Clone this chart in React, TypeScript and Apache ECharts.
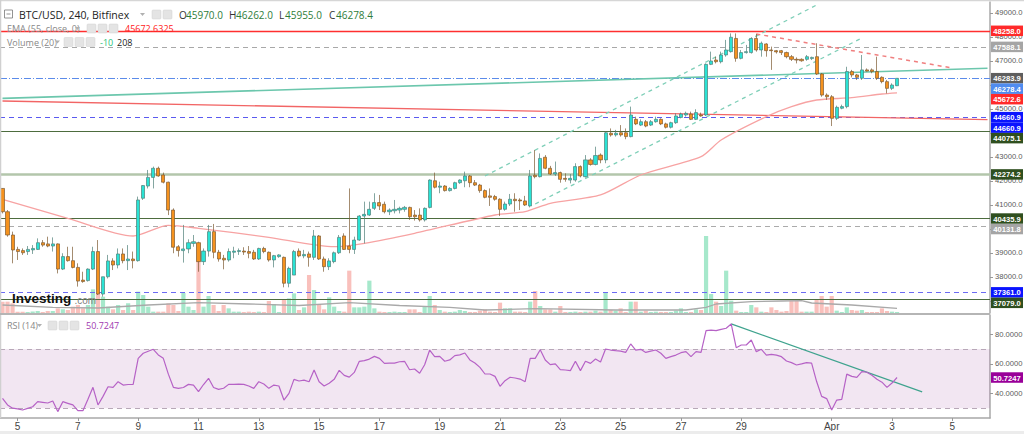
import React, { useEffect, useRef } from "react";
import * as echarts from "echarts";

// ---------- axis domain ----------
const START_UTC = Date.UTC(2022, 2, 4, 12);
const STEP_MS = 4 * 3600 * 1000;
const CATEGORY_COUNT = 197;

// ---------- data: 4h candles [open, close, low, high] ----------
const ohlc: number[][] = [
  [41690, 40720, 40650, 41700], [40720, 39750, 39680, 40790], [39750, 39125, 38570, 39890], [39150, 39060, 38710, 39260],
  [39100, 39010, 38920, 39190], [39060, 39150, 38920, 39290], [39130, 39190, 38960, 39330], [39150, 39430, 39130, 39610],
  [39430, 39330, 39260, 39540], [39380, 39290, 39240, 39680], [39290, 39380, 39060, 39650], [39380, 38330, 38150, 39400],
  [38330, 38850, 38290, 38990], [38850, 38680, 38640, 39260], [38680, 38400, 38360, 39260], [38400, 37830, 37600, 38570],
  [37870, 37810, 37760, 38220], [37850, 38330, 37810, 38360], [38330, 39060, 38290, 39260], [39060, 37290, 37250, 39540],
  [37290, 38010, 37180, 38010], [38010, 38670, 37940, 38920], [38670, 38500, 38290, 38780], [38500, 38960, 38360, 39190],
  [38960, 38680, 38570, 39190], [38680, 38750, 38290, 39330], [38750, 38680, 38360, 39060], [38680, 41210, 38640, 41350],
  [41280, 41810, 41210, 41830], [41790, 42150, 41690, 42460], [42150, 42530, 41690, 42600], [42530, 42210, 42180, 42600],
  [42250, 41950, 41900, 42350], [41950, 40790, 40580, 41970], [40790, 39240, 38990, 40860], [39260, 39100, 38850, 39330],
  [39100, 39170, 38600, 40170], [39170, 39430, 38990, 39570], [39400, 39470, 39260, 39750], [39430, 38640, 38220, 39470],
  [38640, 39080, 38500, 39190], [39080, 39890, 38850, 40170], [39890, 39030, 38780, 40210], [39030, 38750, 38640, 39130],
  [38780, 38710, 38320, 38920], [38710, 39060, 38640, 39190], [39030, 39080, 38780, 39260], [39060, 39100, 38920, 39190],
  [39080, 39040, 38920, 39240], [39060, 38990, 38780, 39290], [39030, 38750, 38710, 39130], [38750, 39190, 38710, 39220],
  [39190, 39060, 38990, 39260], [39030, 38710, 38640, 39060], [38710, 38890, 38400, 38920], [38850, 38920, 38800, 38950],
  [38820, 37740, 37570, 38850], [37740, 38360, 37570, 38430], [38080, 39060, 38080, 39130], [39080, 38880, 38820, 39190],
  [38880, 38940, 38780, 39130], [38960, 38820, 38430, 39060], [38820, 39710, 38710, 39960], [39710, 38750, 38710, 39750],
  [38750, 38430, 38220, 38850], [38430, 38670, 38290, 38780], [38640, 39010, 38570, 39060], [39010, 39650, 38960, 39750],
  [39710, 39150, 39130, 39820], [39290, 39150, 38990, 41690], [39150, 39540, 38960, 39680], [39540, 40540, 39510, 40580],
  [40540, 40610, 39400, 41140], [40580, 40820, 40540, 41140], [40860, 41100, 40790, 41490], [41100, 40960, 40790, 41420],
  [41030, 40720, 40650, 41140], [40720, 40790, 40580, 40860], [40760, 40820, 40650, 41210], [40790, 40860, 40650, 40930],
  [40820, 40900, 40720, 40960], [40900, 40510, 40380, 40930], [40580, 40510, 40350, 40790], [40580, 40380, 40310, 40860],
  [40380, 40860, 40310, 40900], [40900, 42040, 40860, 42070], [42010, 41740, 41690, 42350], [41740, 41790, 41490, 41970],
  [41790, 41600, 41560, 41830], [41600, 41690, 41560, 41740], [41690, 41930, 41650, 41970], [41930, 42040, 41880, 42070],
  [42010, 42210, 41740, 42390], [42210, 41930, 41740, 42250], [41930, 41830, 41790, 42040], [41830, 41600, 41510, 41880],
  [41600, 41320, 41280, 41650], [41380, 41320, 40960, 41690], [41350, 41240, 41180, 41420], [41240, 40820, 40540, 41280],
  [40820, 41040, 40760, 41140], [41040, 41240, 40960, 41460], [41240, 41180, 40720, 41490], [41210, 41170, 40790, 41280],
  [41170, 41000, 40960, 41380], [40960, 42210, 40900, 42460], [42240, 42180, 42110, 43290], [42180, 42940, 42150, 43150],
  [42990, 42530, 42490, 43080], [42530, 42290, 42250, 42630], [42290, 42350, 42210, 42810], [42350, 42070, 41930, 42390],
  [42110, 42070, 41970, 42320], [42040, 42110, 41900, 42290], [42040, 42600, 41970, 42740], [42600, 42210, 42150, 42650],
  [42180, 42880, 42150, 43080], [42880, 42690, 42640, 42950], [42690, 43060, 42650, 43430], [43080, 42880, 42740, 43150],
  [42880, 44010, 42740, 44060], [43990, 43920, 43850, 44190], [43920, 43990, 43850, 44130], [44010, 43920, 43850, 44330],
  [44010, 43850, 43740, 44190], [43850, 44750, 43820, 45100], [44570, 44380, 44330, 44680], [44330, 44470, 44290, 44570],
  [44470, 44290, 44240, 44540], [44330, 44470, 44290, 44540], [44470, 44570, 44430, 44680], [44570, 44380, 44330, 44610],
  [44380, 44240, 44190, 44430], [44240, 44430, 44190, 44470], [44430, 44710, 44380, 44820], [44650, 44790, 44610, 44850],
  [44750, 44820, 44680, 44890], [44790, 44570, 44540, 44890], [44570, 44850, 44540, 44990], [44750, 44710, 44680, 44850],
  [44750, 46860, 44710, 46900], [46860, 47000, 46830, 47390], [47040, 46970, 46900, 47180], [46970, 47250, 46900, 47390],
  [47250, 47460, 47180, 47880], [47390, 47990, 47350, 48150], [47940, 47110, 46970, 48150], [47110, 47350, 47070, 47460],
  [47350, 47390, 47310, 47670], [47350, 47940, 47310, 47990], [47940, 47460, 47390, 48130], [47460, 47740, 47180, 47810],
  [47710, 47430, 47180, 47740], [47460, 47430, 46630, 47600], [47430, 47380, 47310, 47460], [47430, 47350, 47250, 47460],
  [47350, 47180, 47110, 47390], [47180, 47070, 47000, 47250], [47070, 47040, 46900, 47150], [47070, 47010, 46970, 47110],
  [47070, 47180, 47010, 47250], [47100, 47150, 47040, 47180], [47180, 46460, 46420, 47740], [46460, 45580, 45510, 46500],
  [45580, 45510, 45380, 45650], [45510, 44610, 44290, 45580], [44610, 45070, 44540, 45140], [45030, 45100, 44990, 45180],
  [45100, 46560, 45030, 46760], [46560, 46420, 46320, 46630], [46420, 46320, 46210, 46460], [46280, 46630, 46210, 47250],
  [46630, 46580, 46560, 46690], [46630, 46560, 46490, 46690], [46560, 46280, 46210, 47180], [46320, 46140, 46070, 46360],
  [46140, 45860, 45650, 46210], [45860, 46000, 45790, 46070], [45970, 46278.4, 45955, 46278.4],
];

const volumes: number[] = [
  227, 227, 193, 27, 27, 20, 30, 40, 20, 40, 40, 93, 73, 60, 127, 160, 93, 160, 473, 393,
  327, 127, 73, 160, 60, 193, 60, 427, 360, 127, 27, 27, 27, 193, 160, 40, 400, 127, 60, 1393,
  127, 340, 160, 40, 160, 93, 27, 27, 20, 27, 20, 27, 20, 240, 180, 20, 273, 293, 393, 60,
  113, 760, 460, 160, 73, 313, 127, 40, 27, 847, 113, 113, 127, 647, 93, 27, 20, 20, 27, 20,
  20, 73, 73, 20, 127, 340, 160, 60, 27, 20, 27, 60, 40, 20, 20, 47, 73, 27, 20, 207,
  93, 93, 27, 27, 20, 227, 440, 140, 73, 73, 27, 140, 20, 20, 27, 20, 27, 27, 47, 27,
  407, 60, 47, 93, 20, 227, 227, 27, 47, 20, 27, 20, 20, 20, 47, 93, 20, 20, 73, 60,
  1540, 380, 227, 140, 847, 247, 47, 20, 20, 160, 113, 27, 20, 113, 60, 27, 40, 247, 247, 27,
  27, 27, 273, 340, 127, 340, 47, 20, 113, 60, 47, 60, 20, 20, 20, 93, 40, 27, 20,
];

const rsi: number[] = [
  36.7, 32.2, 30.0, 29.5, 28.8, 29.9, 31.0, 34.4, 34.0, 33.5, 34.9, 27.7, 34.4, 33.3, 32.2, 28.3, 28.3, 36.0, 44.1, 32.2,
  38.0, 44.5, 44.1, 47.9, 45.6, 46.0, 46.1, 63.7, 67.1, 68.5, 69.8, 66.0, 63.7, 53.0, 44.1, 43.4, 44.0, 46.1, 45.6, 41.2,
  46.0, 50.2, 44.0, 42.7, 43.5, 46.1, 46.1, 46.3, 46.1, 45.0, 43.4, 47.9, 46.3, 43.4, 45.6, 45.0, 35.5, 40.0, 49.5, 48.4,
  49.0, 47.9, 55.8, 47.9, 45.0, 46.8, 49.5, 55.6, 52.2, 51.0, 54.2, 61.7, 62.1, 63.2, 65.0, 63.7, 60.3, 60.5, 60.5, 61.4,
  61.7, 56.0, 56.5, 53.6, 59.4, 69.3, 64.8, 65.0, 61.7, 62.6, 65.5, 66.0, 67.3, 62.6, 60.5, 57.6, 53.1, 53.1, 51.5, 44.8,
  48.6, 50.9, 50.4, 49.7, 47.9, 63.7, 63.7, 69.5, 62.6, 59.4, 59.9, 56.0, 55.8, 55.4, 61.7, 55.4, 61.7, 60.3, 63.2, 61.2,
  70.0, 69.3, 68.9, 68.6, 67.7, 73.4, 69.3, 69.8, 67.7, 68.6, 69.3, 67.1, 63.7, 64.8, 65.9, 67.5, 68.2, 64.8, 68.2, 67.7,
  82.4, 82.8, 82.4, 83.3, 84.0, 86.9, 70.9, 72.7, 72.7, 76.1, 68.2, 69.8, 65.9, 66.4, 65.9, 64.8, 61.9, 60.8, 59.2, 59.9,
  60.8, 60.5, 48.0, 38.0, 36.5, 28.8, 35.5, 36.0, 53.0, 51.5, 50.8, 54.7, 54.3, 52.2, 49.5, 47.6, 44.1, 47.0, 50.7247,
];

// EMA(55) readings [candle index, value]
const emaPoints: number[][] = [
  [0, 41238], [13, 40446], [26, 39708], [33, 40154], [39, 40029], [53, 39654], [66, 39263], [72, 39404],
  [82, 39821], [98, 40583], [104, 40721], [109, 41071], [119, 41417], [127, 42250], [139, 43013], [143, 43708],
  [152, 44679], [157, 45096], [162, 45375], [169, 45471], [175, 45625], [178, 45672.6],
];
// Volume MA(20) readings [candle index, value]
const volMaPoints: number[][] = [
  [0, 160], [10, 113], [19, 100], [29, 160], [39, 207], [49, 180], [59, 150], [69, 207], [79, 150], [89, 113],
  [96, 60], [106, 87], [122, 60], [136, 60], [140, 113], [142, 180], [149, 227], [155, 240], [159, 247], [161, 200],
  [169, 160], [178, 93],
];

// Drawn lines [candle index, value]
const maLongTeal = [[0, 45442], [196, 46696]];
const maLongRed = [[0, 45333], [196, 44555]];
const channelUpper = [[96, 42208], [162, 49333]];
const channelLower = [[106, 41042], [171, 47958]];
const resistanceLine = [[150, 48125], [189, 46708]];
const rsiTrendLine = [[145, 86.9], [183, 41.1]];

// Horizontal levels
const levelValues = [48258.0, 47588.1, 46278.4, 44660.9, 44075.1, 42274.2, 40435.9, 40131.8, 37361.0, 37079.0];
// Price tags at the right
const tagValues = [48258.0, 47588.1, 46283.9, 46278.4, 45672.6, 44660.9, 44660.9, 44075.1, 42274.2, 40435.9, 40131.8, 37361.0, 37079.0];
const rsiTagValue = 50.7247;

// Tick marks and labels
const priceTicks = [37000, 38000, 39000, 40000, 41000, 42000, 43000, 44000, 45000, 46000, 47000, 48000, 49000];
const priceLabels = [38000, 39000, 41000, 42000, 43000, 45000, 47000, 48000, 49000];
const rsiTicks = [40, 60, 80];
const tickDates = ["03-05", "03-07", "03-09", "03-11", "03-13", "03-15", "03-17", "03-19", "03-21", "03-23", "03-25", "03-27", "03-29", "04-01", "04-03", "04-05"];
const tickTexts = ["5", "7", "9", "11", "13", "15", "17", "19", "21", "23", "25", "27", "29", "Apr", "3", "5"];

// Header values
const header = { symbol: "BTC/USD, 240, Bitfinex", o: "45970.0", h: "46262.0", l: "45955.0", c: "46278.4" };
const emaText = "45672.6325";
const volText = ["-10", "208"];
const rsiText = "50.7247";

// ---------- styles ----------
const levelStyles: any[] = [
  { color: "#ff2f2f", type: "solid", width: 1.3 },
  { color: "#a8a8a8", type: [5, 4], width: 1 },
  { color: "#5b8bea", type: [7, 2, 1, 2], width: 1 },
  { color: "#5a5af0", type: [5, 4], width: 1.2 },
  { color: "#4d6c3e", type: "solid", width: 1.2 },
  { color: "#b3c6ab", type: "solid", width: 2.5 },
  { color: "#4d6c3e", type: "solid", width: 1.2 },
  { color: "#ababab", type: [5, 4], width: 1 },
  { color: "#6b6bf2", type: [5, 4], width: 1.2 },
  { color: "#4d6c3e", type: "solid", width: 1.2 },
];
const tagColors = ["#ff2a2a", "#a5a5a5", "#5e5e5e", "#4f8cf0", "#ff2a2a", "#0a14ff", "#0a14ff", "#2f4f1f", "#2f4f1f", "#2f4f1f", "#a5a5a5", "#0a14ff", "#2f4f1f"];
const BULL = "#2ae2d4";
const BEAR = "#f5921e";
const HEADER_FONT = "'Open Sans', 'Liberation Sans', sans-serif";
const AXIS_FONT = "'Liberation Sans', Arial, sans-serif";

const pad = (n: number) => String(n).padStart(2, "0");
const categories = Array.from({ length: CATEGORY_COUNT }, (_, k) => {
  const d = new Date(START_UTC + k * STEP_MS);
  return `${pad(d.getUTCMonth() + 1)}-${pad(d.getUTCDate())} ${pad(d.getUTCHours())}`;
});
const isTick = (v: string) => v.endsWith(" 00") && tickDates.includes(v.slice(0, 5));

function txt(x: number, y: number, text: string, fill: string, font: string, align = "left"): any {
  return {
    type: "text", silent: true, z: 110,
    style: { x, y, text, fill, font, align, textAlign: align, verticalAlign: "middle", textVerticalAlign: "middle" },
  };
}
function iconBox(x: number, y: number): any {
  return { type: "rect", silent: true, z: 110, shape: { x, y: y - 4.5, width: 9, height: 9, r: 1 }, style: { fill: "#e4e4e4", stroke: "#d0d0d0", lineWidth: 0.5 } };
}
function caret(x: number, y: number): any {
  return { type: "polygon", silent: true, z: 110, shape: { points: [[x, y - 1.5], [x + 5, y - 1.5], [x + 2.5, y + 1.5]] }, style: { fill: "#b0b0b0" } };
}
function hline(x1: number, y1: number, x2: number, y2: number, stroke: string, lineWidth: number): any {
  return { type: "line", silent: true, z: 105, shape: { x1, y1, x2, y2 }, style: { stroke, lineWidth } };
}
function tag(x: number, y: number, bg: string, text: string): any[] {
  return [
    { type: "rect", silent: true, z: 120, shape: { x, y: y - 5.25, width: 32, height: 10.5 }, style: { fill: bg } },
    { type: "text", silent: true, z: 121, style: { x: x + 16, y: y + 0.5, text, fill: "#ffffff", font: `bold 7.6px ${AXIS_FONT}`, align: "center", textAlign: "center", verticalAlign: "middle", textVerticalAlign: "middle" } },
  ];
}

function buildOption(): any {
  const seg = (pts: number[][], lineStyle: any) => [{ coord: pts[0], lineStyle }, { coord: pts[1] }];
  const hiddenX = (gridIndex: number) => ({ type: "category", gridIndex, data: categories, boundaryGap: true, show: false });
  return {
    animation: false,
    backgroundColor: "#ffffff",
    grid: [
      { left: 0, top: 2, width: 990, height: 311, outerBoundsMode: "none" },
      { left: 0, top: 2, width: 990, height: 311, outerBoundsMode: "none" },
      { left: 0, top: 315, width: 990, height: 103, outerBoundsMode: "none" },
    ],
    xAxis: [
      hiddenX(0),
      hiddenX(1),
      {
        type: "category", gridIndex: 2, data: categories, boundaryGap: true,
        axisLine: { show: true, lineStyle: { color: "#a8a8a8", width: 1.5 } },
        axisTick: { show: true, interval: (_i: number, v: string) => isTick(v), alignWithLabel: true, length: 3, lineStyle: { color: "#999" } },
        axisLabel: {
          show: true, interval: (_i: number, v: string) => isTick(v),
          formatter: (v: string) => tickTexts[tickDates.indexOf(v.slice(0, 5))] ?? "",
          color: "#444", fontSize: 10, fontFamily: AXIS_FONT, margin: 3,
        },
        splitLine: { show: false },
      },
    ],
    yAxis: [
      {
        type: "value", gridIndex: 0, position: "right", min: 36500, max: 49458.3, scale: true,
        axisLine: { show: true, lineStyle: { color: "#a8a8a8", width: 1.5 } },
        axisTick: { show: true, customValues: priceTicks, length: 3, lineStyle: { color: "#999" } },
        axisLabel: { show: true, customValues: priceLabels, formatter: (v: number) => v.toFixed(1), color: "#5a5a5a", fontSize: 7.6, fontFamily: AXIS_FONT, margin: 5 },
        splitLine: { show: false },
      },
      { type: "value", gridIndex: 1, min: 0, max: 6220, show: false, splitLine: { show: false } },
      {
        type: "value", gridIndex: 2, position: "right", min: 23.38, max: 92.97,
        axisLine: { show: true, lineStyle: { color: "#a8a8a8", width: 1.5 } },
        axisTick: { show: true, customValues: rsiTicks, length: 3, lineStyle: { color: "#999" } },
        axisLabel: { show: true, customValues: rsiTicks, formatter: (v: number) => v.toFixed(4), color: "#5a5a5a", fontSize: 7.6, fontFamily: AXIS_FONT, margin: 5 },
        splitLine: { show: false },
      },
    ],
    series: [
      {
        type: "bar", name: "Volume", xAxisIndex: 1, yAxisIndex: 1, barWidth: 4.2, silent: true, z: 1,
        data: volumes.map((v, k) => ({ value: v, itemStyle: { color: ohlc[k][1] >= ohlc[k][0] ? "#a6e8cb" : "#f9c0bc" } })),
      },
      {
        type: "line", name: "VolMA", xAxisIndex: 1, yAxisIndex: 1, data: volMaPoints, symbol: "none", silent: true, z: 2,
        lineStyle: { color: "#a9a9a9", width: 1.3 },
      },
      {
        type: "candlestick", name: "BTC/USD", xAxisIndex: 0, yAxisIndex: 0, data: ohlc, barWidth: 3.6, silent: true, z: 5,
        itemStyle: { color: BULL, color0: BEAR, borderColor: "#4f7f78", borderColor0: "#7d5a32", borderWidth: 0.7 },
        markLine: {
          silent: true, symbol: ["none", "none"], label: { show: false }, z: 3,
          data: [
            ...levelValues.map((v, i) => ({ yAxis: v, lineStyle: levelStyles[i] })),
            seg(maLongTeal, { color: "#6cc7ad", type: "solid", width: 1.6 }),
            seg(maLongRed, { color: "#f26565", type: "solid", width: 1.3 }),
            seg(channelUpper, { color: "#7fcfb8", type: [4, 4], width: 1.3 }),
            seg(channelLower, { color: "#7fcfb8", type: [4, 4], width: 1.3 }),
            seg(resistanceLine, { color: "#f07f7f", type: [4, 4], width: 1.5 }),
          ],
        },
      },
      {
        type: "line", name: "EMA 55", xAxisIndex: 0, yAxisIndex: 0, data: emaPoints, symbol: "none", silent: true, z: 4,
        smooth: 0.25, lineStyle: { color: "#f7a3a3", width: 1.3 },
      },
      {
        type: "line", name: "RSI", xAxisIndex: 2, yAxisIndex: 2, data: rsi, symbol: "none", silent: true, z: 5,
        lineStyle: { color: "#b662c6", width: 1.2 },
        markArea: { silent: true, itemStyle: { color: "rgba(150,50,150,0.12)" }, data: [[{ yAxis: 70 }, { yAxis: 30 }]] },
        markLine: {
          silent: true, symbol: ["none", "none"], label: { show: false },
          data: [
            { yAxis: 70, lineStyle: { color: "#b8a8b8", type: [5, 4], width: 1.2 } },
            { yAxis: 30, lineStyle: { color: "#b8a8b8", type: [5, 4], width: 1.2 } },
            seg(rsiTrendLine, { color: "#3fa38e", type: "solid", width: 1.3 }),
          ],
        },
      },
    ],
  };
}

export default function App() {
  const ref = useRef<HTMLDivElement>(null);
  useEffect(() => {
    if (!ref.current) return;
    const chart = echarts.init(ref.current, null, { renderer: "svg" });
    chart.setOption(buildOption());

    // price tags, positioned from the axis scale, stacked to avoid overlap
    const tagPos = tagValues.map((v) => chart.convertToPixel({ yAxisIndex: 0 }, v) as number);
    const ys: number[] = [];
    tagPos.forEach((y, i) => {
      ys.push(i === 0 ? y : Math.max(y, ys[i - 1] + 10.5));
    });
    const tagEls: any[] = [];
    tagValues.forEach((v, i) => tagEls.push(...tag(991, ys[i], tagColors[i], v.toFixed(1))));
    const rsiY = chart.convertToPixel({ yAxisIndex: 2 }, rsiTagValue) as number;
    tagEls.push(...tag(991, rsiY, "#990099", rsiTagValue.toFixed(4)));

    const g: any[] = [
      // frame and separators
      hline(0, 0.5, 1024, 0.5, "#d6d6d6", 1.5),
      hline(0.5, 0, 0.5, 418, "#d0d0d0", 1.5),
      hline(0, 314, 990, 314, "#b5b5b5", 2),
      { type: "rect", silent: true, z: 100, shape: { x: 0, y: 431, width: 1024, height: 3 }, style: { fill: "#ececec" } },
      // header line 1
      { type: "rect", silent: true, z: 110, shape: { x: 4.5, y: 10, width: 8, height: 8 }, style: { fill: "none", stroke: "#777", lineWidth: 0.8 } },
      hline(6.5, 14, 10.5, 14, "#777", 0.8),
      txt(19, 14.5, header.symbol, "#222", `10.5px ${HEADER_FONT}`),
      caret(140, 14.5),
      iconBox(152, 14.5), iconBox(163, 14.5),
      txt(179, 14.5, "O", "#333", `10px ${HEADER_FONT}`),
      txt(186, 14.5, header.o, "#2f7d3a", `10px ${HEADER_FONT}`),
      txt(229, 14.5, "H", "#333", `10px ${HEADER_FONT}`),
      txt(236, 14.5, header.h, "#2f7d3a", `10px ${HEADER_FONT}`),
      txt(279, 14.5, "L", "#333", `10px ${HEADER_FONT}`),
      txt(285, 14.5, header.l, "#2f7d3a", `10px ${HEADER_FONT}`),
      txt(329, 14.5, "C", "#333", `10px ${HEADER_FONT}`),
      txt(336, 14.5, header.c, "#2f7d3a", `10px ${HEADER_FONT}`),
      // header line 2
      txt(7, 28.5, "EMA (55, close, 0)", "#888", `9px ${HEADER_FONT}`),
      caret(75, 28.5),
      iconBox(87, 28.5), iconBox(98, 28.5), iconBox(109, 28.5),
      txt(125, 28.5, emaText, "#ff2020", `9px ${HEADER_FONT}`),
      // header line 3
      txt(7, 42, "Volume (20)", "#888", `9px ${HEADER_FONT}`),
      caret(55, 42),
      iconBox(64, 42), iconBox(75, 42), iconBox(86, 42),
      txt(100, 42, volText[0], "#1fc37a", `9px ${HEADER_FONT}`),
      txt(117, 42, volText[1], "#222", `9px ${HEADER_FONT}`),
      // RSI header
      txt(7, 325.5, "RSI (14)", "#888", `9px ${HEADER_FONT}`),
      caret(37, 325.5),
      iconBox(48, 325.5), iconBox(59, 325.5), iconBox(70, 325.5),
      txt(86, 325.5, rsiText, "#a03ab0", `9px ${HEADER_FONT}`),
      // logo
      txt(12, 298, "Investing", "#111", `bold 13.5px ${AXIS_FONT}`),
      txt(74.5, 300, ".com", "#808080", `10px ${AXIS_FONT}`),
      ...tagEls,
    ];
    chart.setOption({ graphic: g });
    return () => chart.dispose();
  }, []);
  return <div ref={ref} style={{ position: "fixed", left: 0, top: 0, width: 1024, height: 434, background: "#fff" }} />;
}
